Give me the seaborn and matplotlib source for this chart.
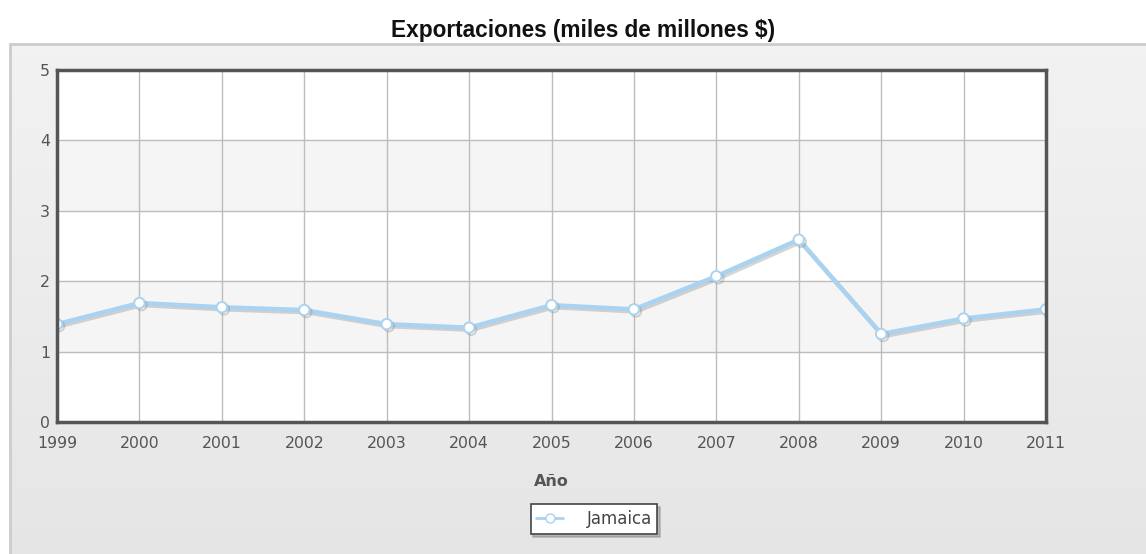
import numpy as np
import pandas as pd
import matplotlib
matplotlib.use("Agg")
import matplotlib.pyplot as plt
import matplotlib.patheffects as pe
from matplotlib.lines import Line2D
import seaborn as sns

# Jamaica exports, billions of US$
years = [1999, 2000, 2001, 2002, 2003, 2004, 2005, 2006, 2007, 2008, 2009, 2010, 2011]
exports = [1.39, 1.69, 1.63, 1.59, 1.39, 1.34, 1.66, 1.60, 2.07, 2.59, 1.25, 1.47, 1.60]
series_name = "Jamaica"
title_text = "Exportaciones (miles de millones $)"
x_label = "Año"

df = pd.DataFrame({"year": years, "value": exports, "country": series_name})

sns.set_style("white")
plt.rcParams["font.family"] = ["DejaVu Sans"]

W, H = 1146, 554
fig = plt.figure(figsize=(W / 100, H / 100), dpi=100)
fig.patch.set_facecolor("white")

# gray gradient panel behind the chart
bg = fig.add_axes([10 / W, 0, 1 - 10 / W, (H - 44) / H], zorder=-5)
grad = np.linspace(0.95, 0.90, 256).reshape(-1, 1)
bg.imshow(np.dstack([grad, grad, grad]), aspect="auto", extent=[0, 1, 0, 1], origin="upper")
bg.set_xlim(0, 1)
bg.set_ylim(0, 1)
bg.axis("off")
fig.add_artist(Line2D([10 / W, 1], [(H - 44) / H] * 2, color="#cccccc", lw=2))
fig.add_artist(Line2D([10 / W] * 2, [0, (H - 44) / H], color="#cccccc", lw=2))

ax = fig.add_axes([57 / W, 1 - 422 / H, (1046 - 57) / W, (422 - 70) / H])
ax.set_facecolor("white")

# alternating horizontal bands
for lo in (1, 3):
    ax.axhspan(lo, lo + 1, color="#f5f5f5", zorder=0)

sns.lineplot(data=df, x="year", y="value", ax=ax, color="#a9d3f0", lw=3.2,
             marker="o", markersize=7.5, markerfacecolor="white",
             markeredgecolor="#a9d3f0", markeredgewidth=1.4, zorder=3,
             path_effects=[pe.SimpleLineShadow(offset=(1.5, -1.5), shadow_color="#888888", alpha=0.35),
                           pe.Normal()])

ax.set_xlim(years[0], years[-1])
ax.set_ylim(0, 5)
ax.set_xticks(years)
ax.set_xticklabels([str(y) for y in years])
ax.set_yticks(range(0, 6))
ax.grid(True, color="#bdbdbd", lw=1, zorder=1)
ax.set_axisbelow(True)

for s in ax.spines.values():
    s.set_color("#555555")
    s.set_linewidth(2.5)
    s.set_zorder(5)

ax.tick_params(axis="both", length=0, labelsize=11.3, labelcolor="#555555")
ax.tick_params(axis="x", pad=10)
ax.tick_params(axis="y", pad=5)

ax.set_xlabel(x_label, fontsize=11.5, fontweight="bold", color="#555555", labelpad=17)
ax.set_ylabel("")

fig.text(583 / W, 1 - 31 / H, title_text, ha="center", va="center",
         fontsize=16.3, fontweight="bold", family="Liberation Sans", color="#111111")

handle = Line2D([], [], color="#a9d3f0", lw=2, marker="o", markersize=6.5,
                markerfacecolor="white", markeredgecolor="#a9d3f0")
leg = fig.legend([handle], [series_name], loc="center", bbox_to_anchor=(594 / W, 1 - 519 / H),
                 frameon=True, shadow={"color": "#888888", "alpha": 0.5}, fancybox=False,
                 fontsize=12, handlelength=1.6, borderpad=0.35, handletextpad=1.4,
                 borderaxespad=0)
leg.get_frame().set_edgecolor("#444444")
leg.get_frame().set_linewidth(1.2)
for t in leg.get_texts():
    t.set_color("#444444")

fig.savefig("out.png", dpi=100)
